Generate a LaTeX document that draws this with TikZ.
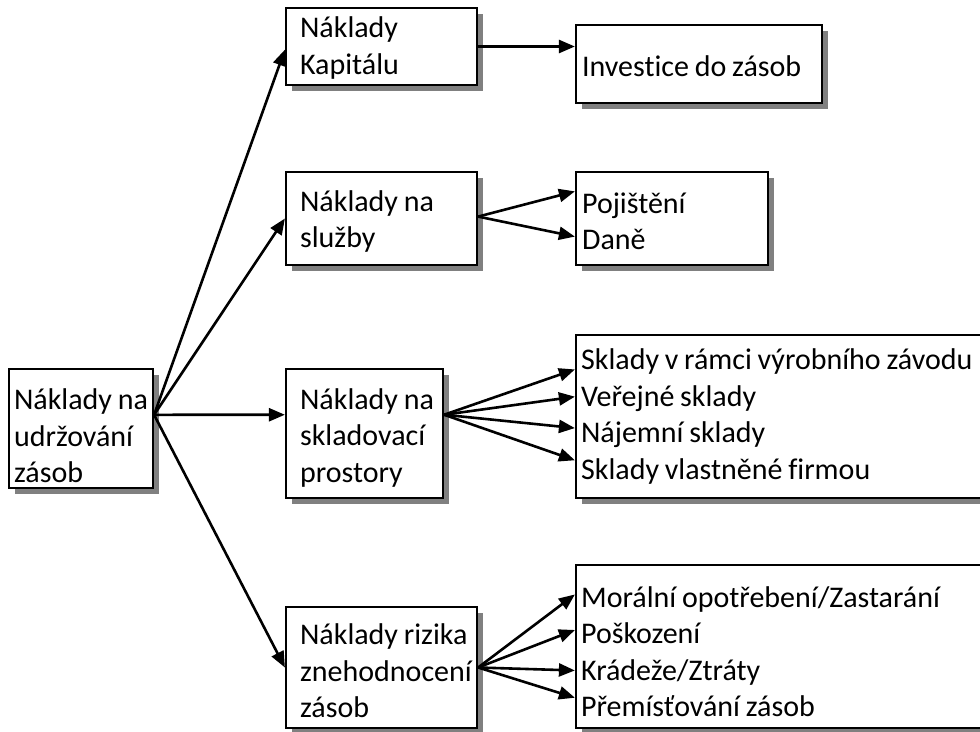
\documentclass[tikz,border=0pt]{standalone}
\usepackage{fontspec}
\setmainfont{Carlito}[Ligatures={NoCommon},WordSpace=0.85]
\usetikzlibrary{arrows.meta,shadows,calc}
\tikzset{
  box/.style={draw=black, line width=2.2pt, fill=white, rectangle, anchor=center, inner sep=0pt,
    drop shadow={shadow xshift=5.5pt, shadow yshift=-5.5pt, fill=black!50, opacity=1}},
  txt/.style={anchor=west, align=left, inner sep=0pt, font=\fontsize{30pt}{36.5pt}\selectfont},
  conn/.style={line width=2.6pt, -{Triangle[length=16pt,width=13pt]}}
}
\begin{document}
\begin{tikzpicture}[x=1pt,y=-1pt]
\useasboundingbox (0,0) rectangle (980,731);
\clip (0,0) rectangle (980,731);
% boxes
\node[box, minimum width=144pt, minimum height=119pt] (A) at (81,428.5) {};
\node[box, minimum width=191pt, minimum height=77pt] (B1) at (381.5,46.5) {};
\node[box, minimum width=191pt, minimum height=93pt] (B2) at (381.5,218.5) {};
\node[box, minimum width=157pt, minimum height=129pt] (B3) at (364.5,433.5) {};
\node[box, minimum width=191pt, minimum height=121pt] (B4) at (381.5,667.5) {};
\node[box, minimum width=246pt, minimum height=78pt] (C1) at (699,64) {};
\node[box, minimum width=192pt, minimum height=93pt] (C2) at (672,218.5) {};
\node[box, minimum width=424pt, minimum height=163pt] (C3) at (788,416.5) {};
\node[box, minimum width=424pt, minimum height=163pt] (C4) at (788,646.5) {};
% texts
\node[txt] (At) at ($(A.west)+(6,7.5)$) {Náklady na\\udržování\\zásob};
\node[txt] (B1t) at ($(B1.west)+(15,1.5)$) {Náklady\\Kapitálu};
\node[txt] (B2t) at ($(B2.west)+(15,3)$) {Náklady na\\služby};
\node[txt] (B3t) at ($(B3.west)+(15,4)$) {Náklady na\\skladovací\\prostory};
\node[txt] (B4t) at ($(B4.west)+(15,3.5)$) {Náklady rizika\\znehodnocení\\zásob};
\node[txt] (C1t) at ($(C1.west)+(7,2)$) {Investice do zásob};
\node[txt] (C2t) at ($(C2.west)+(7,3)$) {Pojištění\\Daně};
\node[txt] (C3t) at ($(C3.west)+(6,0)$) {Sklady v rámci výrobního závodu\\Veřejné sklady\\Nájemní sklady\\Sklady vlastněné firmou};
\node[txt] (C4t) at ($(C4.west)+(6,5)$) {Morální opotřebení/Zastarání\\Poškození\\Krádeže/Ztráty\\Přemísťování zásob};
% connection points
\coordinate (Ao) at ($(A.north east)!0.387!(A.south east)$);
\coordinate (B1i) at ($(B1.north west)!0.54!(B1.south west)$);
\coordinate (B3i) at ($(B3.north west)!0.357!(B3.south west)$);
\coordinate (B3o) at ($(B3.north east)!0.357!(B3.south east)$);
\coordinate (B2o) at ($(B2.north east)!0.48!(B2.south east)$);
\coordinate (C2a) at ($(C2.north west)!0.215!(C2.south west)$);
\coordinate (C2b) at ($(C2.north west)!0.69!(C2.south west)$);
\coordinate (C3a) at ($(C3.north west)!0.215!(C3.south west)$);
\coordinate (C3b) at ($(C3.north west)!0.38!(C3.south west)$);
\coordinate (C3c) at ($(C3.north west)!0.57!(C3.south west)$);
\coordinate (C3d) at ($(C3.north west)!0.765!(C3.south west)$);
\coordinate (C4a) at ($(C4.north west)!0.185!(C4.south west)$);
\coordinate (C4b) at ($(C4.north west)!0.4!(C4.south west)$);
\coordinate (C4c) at ($(C4.north west)!0.645!(C4.south west)$);
\coordinate (C4d) at ($(C4.north west)!0.81!(C4.south west)$);
% connectors
\draw[conn] (Ao) -- (B1i);
\draw[conn] (Ao) -- (B2.west);
\draw[conn] (Ao) -- (B3i);
\draw[conn] (Ao) -- (B4.west);
\draw[conn] (B1.east) -- (B1.east -| C1.west);
\draw[conn] (B2o) -- (C2a);
\draw[conn] (B2o) -- (C2b);
\draw[conn] (B3o) -- (C3a);
\draw[conn] (B3o) -- (C3b);
\draw[conn] (B3o) -- (C3c);
\draw[conn] (B3o) -- (C3d);
\draw[conn] (B4.east) -- (C4a);
\draw[conn] (B4.east) -- (C4b);
\draw[conn] (B4.east) -- (C4c);
\draw[conn] (B4.east) -- (C4d);
\end{tikzpicture}
\end{document}
